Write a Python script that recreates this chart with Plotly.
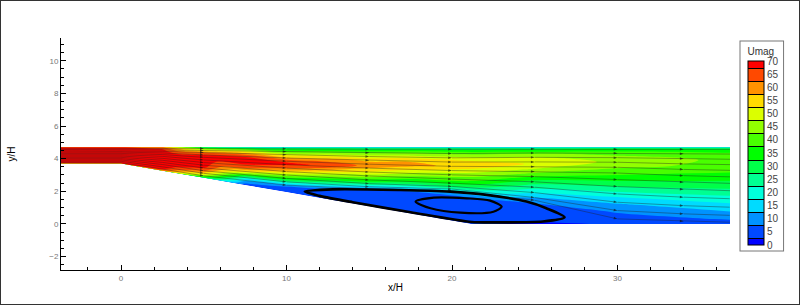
import plotly.graph_objects as go

# ---------------- data ----------------
# Umag field: x stations, and for every station 15 sample heights (wall -> top wall) with Umag
X_STATIONS = [-4, 0, 2.5, 5, 7.5, 10, 12.5, 15, 17.5, 21.2, 25, 30, 37]

Y_XM4 = [3.70, 3.77, 3.84, 3.91, 3.99, 4.06, 4.13, 4.20, 4.27, 4.34, 4.41, 4.49, 4.56, 4.63, 4.70]
U_XM4 = [69, 71, 71, 71, 71, 71, 71, 71, 71, 71, 71, 71, 71, 71, 69]
Y_X0 = [3.70, 3.77, 3.84, 3.91, 3.99, 4.06, 4.13, 4.20, 4.27, 4.34, 4.41, 4.49, 4.56, 4.63, 4.70]
U_X0 = [68, 71, 71, 71, 71, 71, 71, 71, 71, 71, 71, 71, 71, 71, 68]
Y_X2 = [3.26, 3.32, 3.40, 3.50, 3.60, 3.70, 3.80, 3.90, 4.00, 4.10, 4.20, 4.32, 4.45, 4.60, 4.70]
U_X2 = [62, 66, 69, 71, 71, 71, 71, 71, 71, 71, 71, 71, 70, 67, 63]
Y_X5 = [2.83, 2.90, 2.97, 3.05, 3.20, 3.35, 3.55, 3.80, 4.05, 4.20, 4.35, 4.47, 4.57, 4.65, 4.70]
U_X5 = [30, 38, 45, 52, 60, 66, 70, 71, 70.5, 68.5, 63, 56, 47, 38, 30]
Y_X7 = [2.39, 2.50, 2.62, 2.74, 2.90, 2.98, 3.06, 3.20, 3.40, 3.80, 4.15, 4.40, 4.55, 4.63, 4.70]
U_X7 = [5, 8, 12, 17, 28, 35, 44, 53, 62, 71, 67, 55, 42, 32, 22]
Y_X10 = [1.955, 2.15, 2.30, 2.45, 2.60, 2.80, 3.00, 3.20, 3.45, 3.70, 3.95, 4.20, 4.40, 4.60, 4.70]
U_X10 = [4, 5, 8, 16, 26, 36, 45, 55, 64, 69.5, 62, 52, 42, 31, 20]
Y_X12 = [1.518, 1.90, 2.10, 2.25, 2.40, 2.60, 2.80, 3.00, 3.25, 3.55, 3.85, 4.10, 4.35, 4.60, 4.70]
U_X12 = [4, 4.5, 6, 12, 20, 30, 38, 46, 56, 66, 62, 54, 43, 31, 20]
Y_X15 = [1.082, 2.00, 2.15, 2.28, 2.42, 2.60, 2.85, 3.10, 3.35, 3.60, 3.90, 4.15, 4.42, 4.60, 4.70]
U_X15 = [4, 5, 9, 16, 25, 33, 42, 50, 56, 61, 56, 49, 39, 30, 20]
Y_X17 = [0.646, 1.90, 2.05, 2.20, 2.35, 2.60, 2.90, 3.15, 3.40, 3.65, 3.95, 4.20, 4.42, 4.60, 4.70]
U_X17 = [3.5, 5, 9, 16, 24, 33, 42, 48, 55, 60, 55, 47, 39, 30, 20]
Y_X21 = [0.0, 1.45, 1.65, 1.85, 2.05, 2.25, 2.55, 2.90, 3.15, 3.45, 3.75, 4.05, 4.35, 4.60, 4.70]
U_X21 = [3, 4.5, 8, 15, 22, 28, 36, 43, 48, 54, 55, 48, 40, 30, 20]
Y_X25 = [0.0, 0.25, 1.00, 1.30, 1.60, 1.90, 2.30, 2.70, 3.00, 3.30, 3.65, 3.95, 4.25, 4.55, 4.70]
U_X25 = [1.5, 4, 5, 8, 12, 18, 25, 33, 40, 46, 52, 50, 44, 33, 20]
Y_X30 = [0.0, 0.30, 0.75, 1.20, 1.60, 2.00, 2.40, 2.80, 3.20, 3.55, 3.85, 4.15, 4.40, 4.60, 4.70]
U_X30 = [3, 5, 8, 12, 17, 23, 29, 35, 40, 44, 46, 43, 39, 32, 20]
Y_X37 = [0.0, 0.30, 0.70, 1.10, 1.60, 2.00, 2.40, 2.80, 3.20, 3.60, 3.95, 4.25, 4.45, 4.60, 4.70]
U_X37 = [5, 8, 12, 16, 21, 26, 30, 34, 38, 41, 41, 39, 36, 31, 20]

Y_COLS = [Y_XM4, Y_X0, Y_X2, Y_X5, Y_X7, Y_X10, Y_X12, Y_X15, Y_X17, Y_X21, Y_X25, Y_X30, Y_X37]
U_COLS = [U_XM4, U_X0, U_X2, U_X5, U_X7, U_X10, U_X12, U_X15, U_X17, U_X21, U_X25, U_X30, U_X37]

# streamlines: heights of the 12 lines (top -> bottom) at each streamline station
SL_X = [-4, 0, 2.5, 5, 10, 15, 20, 25, 30, 34, 37]
SL_XM4 = [4.64, 4.56, 4.48, 4.40, 4.32, 4.24, 4.16, 4.08, 4.00, 3.92, 3.84, 3.76]
SL_X0 = [4.64, 4.56, 4.48, 4.40, 4.32, 4.24, 4.16, 4.08, 4.00, 3.92, 3.84, 3.75]
SL_X2 = [4.63, 4.54, 4.45, 4.35, 4.25, 4.14, 4.02, 3.90, 3.77, 3.64, 3.50, 3.36]
SL_X5 = [4.62, 4.50, 4.37, 4.23, 4.08, 3.92, 3.76, 3.60, 3.43, 3.26, 3.10, 2.95]
SL_X10 = [4.60, 4.43, 4.24, 4.04, 3.84, 3.63, 3.42, 3.21, 3.00, 2.79, 2.58, 2.38]
SL_X15 = [4.58, 4.36, 4.13, 3.90, 3.66, 3.42, 3.18, 2.94, 2.70, 2.47, 2.28, 2.15]
SL_X20 = [4.57, 4.31, 4.05, 3.79, 3.53, 3.27, 3.01, 2.75, 2.50, 2.30, 2.14, 2.04]
SL_X25 = [4.60, 4.35, 4.08, 3.80, 3.51, 3.21, 2.90, 2.58, 2.25, 1.92, 1.62, 1.45]
SL_X30 = [4.58, 4.33, 4.06, 3.78, 3.47, 3.12, 2.72, 2.29, 1.84, 1.33, 0.82, 0.31]
SL_X34 = [4.57, 4.30, 4.00, 3.68, 3.34, 2.96, 2.56, 2.12, 1.64, 1.12, 0.62, 0.17]
SL_X37 = [4.57, 4.28, 3.96, 3.63, 3.28, 2.88, 2.48, 2.03, 1.54, 1.02, 0.52, 0.10]
SL_COLS = [SL_XM4, SL_X0, SL_X2, SL_X5, SL_X10, SL_X15, SL_X20, SL_X25, SL_X30, SL_X34, SL_X37]
SL_ARROW_AT = [5, 10, 15, 20, 25, 30, 34]

# recirculation bubble (closed streamlines)
OUTER_X = [11.1, 12.8, 16.9, 19.9, 22.1, 24.5, 25.7, 26.8, 25.5, 22.5, 21.2, 17.5, 14.0, 12.0, 11.1]
OUTER_Y = [1.98, 2.12, 2.08, 1.98, 1.78, 1.37, 0.96, 0.41, 0.15, 0.10, 0.12, 0.72, 1.33, 1.72, 1.98]
INNER_X = [17.8, 18.9, 20.9, 22.3, 23.0, 22.5, 20.5, 18.7, 17.8]
INNER_Y = [1.37, 1.61, 1.57, 1.43, 1.06, 0.75, 0.69, 0.96, 1.37]

LEVELS = [0, 5, 10, 15, 20, 25, 30, 35, 40, 45, 50, 55, 60, 65, 70]
LEVEL_COLORS = ["#0000ff", "#0049ff", "#0092ff", "#00dbff", "#00ffdb", "#00ff92", "#00ff49",
                "#00ff00", "#49ff00", "#92ff00", "#dbff00", "#ffdb00", "#ff9200", "#ff4900", "#ff0000"]

# ---------------- figure ----------------
W, H = 800, 305
ML, MR, MT, MB = 61, 70, 38, 35
pw, ph = W - ML - MR, H - MT - MB

n_a = len(X_STATIONS)
n_b = len(Y_XM4)
B = list(range(n_b))
XX = [[X_STATIONS[i] for i in range(n_a)] for j in range(n_b)]
YY = [[Y_COLS[i][j] for i in range(n_a)] for j in range(n_b)]
ZZ = [[U_COLS[i][j] for i in range(n_a)] for j in range(n_b)]

colorscale = [[k / (len(LEVEL_COLORS) - 1), c] for k, c in enumerate(LEVEL_COLORS)]
step = LEVELS[1] - LEVELS[0]
contours = dict(start=LEVELS[0] + step / 2, end=LEVELS[-1] - step / 2, size=step,
                coloring="fill", showlines=False)

hidden_axis = dict(showgrid=False, gridcolor="rgba(0,0,0,0)", showline=False,
                   showticklabels="none", startline=False, endline=False,
                   minorgridcount=0, smoothing=0, linecolor="rgba(0,0,0,0)",
                   color="rgba(0,0,0,0)")

fig = go.Figure()
fig.add_trace(go.Carpet(carpet="domain", a=X_STATIONS, b=B, x=XX, y=YY,
                        color="rgba(0,0,0,0)", aaxis=hidden_axis, baxis=hidden_axis))
fig.add_trace(go.Contourcarpet(carpet="domain", a=X_STATIONS, b=B, z=ZZ,
                               autocontour=False, contours=contours,
                               colorscale=colorscale, line=dict(width=0),
                               showscale=False))

# colour legend (levels) drawn by a contour trace kept off the visible axes
fig.add_trace(go.Contour(
    z=[LEVELS, LEVELS], xaxis="x2", yaxis="y2", autocontour=False,
    contours=dict(start=LEVELS[0] + step / 2, end=LEVELS[-1] - step / 2, size=step,
                  coloring="fill", showlines=True),
    line=dict(color="black", width=1), colorscale=colorscale, opacity=0,
    hoverinfo="skip",
    colorbar=dict(
        title=dict(text="Umag", side="top", font=dict(family="Liberation Sans", size=10, color="#333")),
        tickmode="array", tickvals=LEVELS, ticktext=[str(v) for v in LEVELS],
        tickfont=dict(family="Liberation Sans", size=10, color="#444"), ticks="",
        thickness=16, lenmode="pixels", len=208,
        x=(741 - ML) / pw, xanchor="left",
        y=1 - (41 - MT) / ph, yanchor="top",
        xpad=7, ypad=4, bgcolor="white", bordercolor="#777", borderwidth=1,
        outlinecolor="black", outlinewidth=1)))

# streamlines
for k in range(len(SL_XM4)):
    ys = [col[k] for col in SL_COLS]
    sizes = [4 if x in SL_ARROW_AT else 0 for x in SL_X]
    fig.add_trace(go.Scatter(x=SL_X, y=ys, mode="lines+markers",
                             line=dict(color="#222", width=0.4),
                             marker=dict(symbol="arrow", angleref="previous", size=sizes,
                                         color="#111", line=dict(width=0)),
                             hoverinfo="skip", showlegend=False))

for xs, ys, wdt in [(OUTER_X, OUTER_Y, 2.6), (INNER_X, INNER_Y, 2.2)]:
    fig.add_trace(go.Scatter(x=xs, y=ys, mode="lines", line=dict(color="black", width=wdt, shape="spline", smoothing=0.8),
                             hoverinfo="skip", showlegend=False))

fig.add_shape(type="rect", xref="paper", yref="paper",
              x0=-ML / pw, x1=1 + MR / pw, y0=-MB / ph, y1=1 + MT / ph,
              line=dict(color="#333", width=2), fillcolor="rgba(0,0,0,0)", layer="above")

tickfont = dict(family="Liberation Sans", size=8, color="#777")
titlefont = dict(family="Liberation Sans", size=10, color="black")
fig.update_layout(
    width=W, height=H, margin=dict(l=ML, r=MR, t=MT, b=MB, autoexpand=False),
    paper_bgcolor="white", plot_bgcolor="white", showlegend=False,
    xaxis=dict(range=[-3.63, 36.8], showgrid=False, zeroline=False, showline=True,
               linecolor="black", linewidth=1, ticks="inside", ticklen=5, tickcolor="black",
               tick0=0, dtick=10, tickfont=tickfont,
               minor=dict(dtick=2, ticks="inside", ticklen=3, tickcolor="black"),
               title=dict(text="x/H", font=titlefont, standoff=2), automargin=False),
    yaxis=dict(range=[-2.82, 11.39], showgrid=False, zeroline=False, showline=True,
               linecolor="black", linewidth=1, ticks="inside", ticklen=5, tickcolor="black",
               tick0=0, dtick=2, tickfont=tickfont,
               minor=dict(dtick=0.5, ticks="inside", ticklen=3, tickcolor="black"),
               title=dict(text="y/H", font=titlefont, standoff=31), automargin=False),
    xaxis2=dict(domain=[0, 0.001], visible=False, anchor="y2"),
    yaxis2=dict(domain=[0, 0.001], visible=False, anchor="x2"),
)

fig.write_html("out.html")
